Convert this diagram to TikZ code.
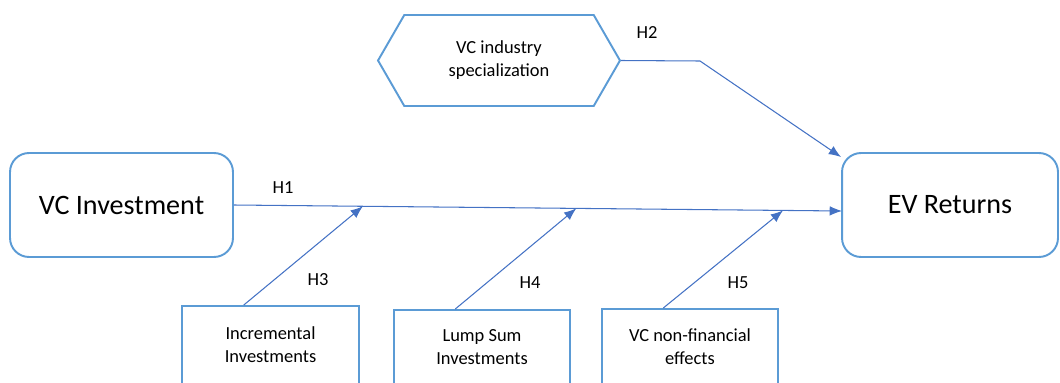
\documentclass[tikz,border=0pt]{standalone}
\usepackage{fontspec}
\setmainfont{Carlito}
\usetikzlibrary{arrows.meta,calc,shapes.symbols}
\definecolor{boxblue}{RGB}{91,155,213}
\definecolor{arrblue}{RGB}{68,114,196}
\begin{document}
\begin{tikzpicture}[x=0.02cm, y=-0.02cm,
    bigbox/.style={draw=boxblue, line width=1.1pt, rounded corners=0.38cm, minimum height=2.08cm,
      font=\fontsize{16}{18}\selectfont},
    lowbox/.style={draw=boxblue, line width=1.1pt, align=center, minimum width=3.53cm},
    hexbox/.style={draw=boxblue, line width=1.1pt, signal, signal to=west and east,
      signal pointer angle=120, minimum width=4.84cm, minimum height=1.82cm, align=center},
    link/.style={draw=arrblue, line width=0.6pt, -{Latex[length=7pt,width=5.5pt]}},
    hlbl/.style={inner sep=0pt},
    every node/.style={font=\fontsize{10.5}{13}\selectfont}]
  \useasboundingbox (0,0) rectangle (1060,382);
  \clip (0,0) rectangle (1060,382);
  % Main boxes
  \node[bigbox, minimum width=4.46cm] (vcinv) at (121.5,205) {VC Investment};
  \node[bigbox, minimum width=4.32cm] (evret) at (950,205) {EV Returns};
  \node[hexbox] (spec) at (499,60.5) {VC industry\\specialization};
  % Moderators (cut at the bottom)
  \node[lowbox, minimum height=1.56cm] (incr) at (270.5,345) {Incremental\\Investments};
  \node[lowbox, minimum height=1.48cm] (lump) at (482,347) {Lump Sum\\Investments};
  \node[lowbox, minimum height=1.52cm] (nonfin) at (690,347) {VC non-financial\\effects};
  % H1
  \coordinate (h1end) at (842,211);
  \draw[link] (vcinv.east) -- (h1end);
  % H2
  \coordinate (h2bend) at (700,61);
  \draw[link] (spec.east) -- (h2bend) -- ($(evret.north west)+(0,5)$);
  % H3 - H5
  \draw[link] ($(incr.north west)!0.35!(incr.north east)$) -- ($(vcinv.east)!0.212!(h1end)$);
  \draw[link] ($(lump.north west)!0.35!(lump.north east)$) -- ($(vcinv.east)!0.563!(h1end)$);
  \draw[link] ($(nonfin.north west)!0.35!(nonfin.north east)$) -- ($(vcinv.east)!0.903!(h1end)$);
  % Labels
  \node[hlbl] (lh1) at (283,188) {H1};
  \node[hlbl] (lh2) at (647,33) {H2};
  \node[hlbl] (lh3) at (318,280) {H3};
  \node[hlbl] (lh4) at (530,283) {H4};
  \node[hlbl] (lh5) at (738,283) {H5};
\end{tikzpicture}
\end{document}
